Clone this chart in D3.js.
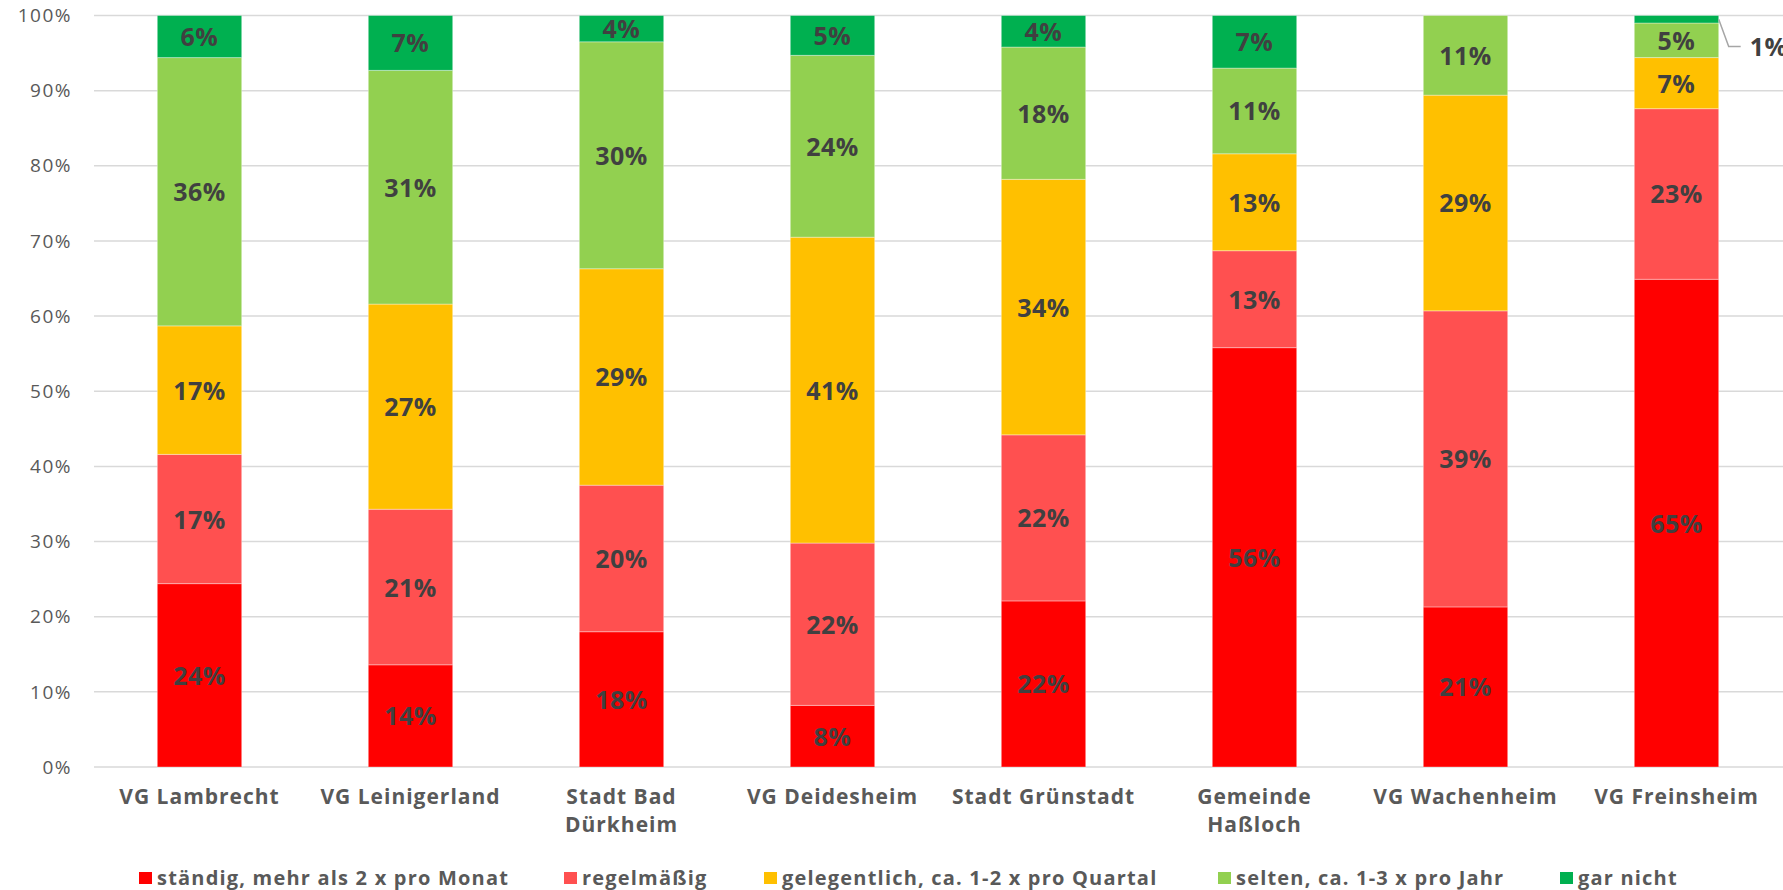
<!DOCTYPE html>
<html>
<head>
<meta charset="utf-8">
<script src="https://cdn.jsdelivr.net/npm/d3@7.9.0/dist/d3.min.js"></script>
<style>
  html, body { margin: 0; padding: 0; background: #fff; }
  svg { display: block; font-family: "Open Sans", sans-serif; }
</style>
</head>
<body>
<svg id="chart" width="1783" height="890"></svg>
<script>
const categories = ['VG Lambrecht', 'VG Leinigerland', 'Stadt Bad Dürkheim', 'VG Deidesheim',
  'Stadt Grünstadt', 'Gemeinde Haßloch', 'VG Wachenheim', 'VG Freinsheim'];

const seriesNames = ['ständig, mehr als 2 x pro Monat', 'regelmäßig',
  'gelegentlich, ca. 1-2 x pro Quartal', 'selten, ca. 1-3 x pro Jahr', 'gar nicht'];

const seriesColors = ['#ff0000', '#ff5050', '#ffc000', '#92d050', '#00b050'];

// percent per category, one array per series
const staendig    = [24.4, 13.6, 18.0,  8.2, 22.1, 55.8, 21.3, 64.9];
const regelmaessig = [17.2, 20.7, 19.5, 21.6, 22.1, 12.9, 39.4, 22.7];
const gelegentlich = [17.1, 27.3, 28.8, 40.7, 34.0, 12.9, 28.7,  6.8];
const selten      = [35.7, 31.1, 30.2, 24.2, 17.6, 11.4, 10.6,  4.6];
const garNicht    = [ 5.6,  7.3,  3.5,  5.3,  4.2,  7.0,  0.0,  1.0];

const yTicks = [0, 10, 20, 30, 40, 50, 60, 70, 80, 90, 100];

const seriesValues = [staendig, regelmaessig, gelegentlich, selten, garNicht];
const rows = categories.map((c, i) => {
  const r = { category: c };
  seriesNames.forEach((s, k) => { r[s] = seriesValues[k][i]; });
  return r;
});

const svg = d3.select('#chart');
const margin = { left: 94, right: 1, top: 15.5, bottom: 123 };
const width = 1783, height = 890;

const x = d3.scaleBand()
  .domain(categories)
  .range([margin.left, width - margin.right])
  .paddingInner(0.6)
  .paddingOuter(0.3);

const y = d3.scaleLinear()
  .domain([0, 100])
  .range([height - margin.bottom, margin.top]);

// gridlines
svg.append('g')
  .selectAll('line')
  .data(yTicks)
  .join('line')
  .attr('x1', margin.left)
  .attr('x2', width)
  .attr('y1', d => y(d))
  .attr('y2', d => y(d))
  .attr('stroke', '#d9d9d9')
  .attr('stroke-width', 1.5);

// y axis labels
svg.append('g')
  .selectAll('text')
  .data(yTicks)
  .join('text')
  .attr('x', 72)
  .attr('y', d => y(d))
  .attr('dy', '0.35em')
  .attr('text-anchor', 'end')
  .attr('font-size', 19)
  .attr('letter-spacing', 1.5)
  .attr('fill', '#595959')
  .text(d => d + '%');

const stacked = d3.stack().keys(seriesNames)(rows);

const layers = svg.append('g')
  .selectAll('g')
  .data(stacked)
  .join('g')
  .attr('fill', (d, i) => seriesColors[i]);

layers.selectAll('rect')
  .data(d => d)
  .join('rect')
  .attr('x', d => x(d.data.category))
  .attr('width', x.bandwidth())
  .attr('y', d => y(d[1]))
  .attr('height', d => y(d[0]) - y(d[1]))
  .attr('stroke', 'rgba(255,255,255,0.35)')
  .attr('stroke-width', 1);

// data labels
const labelG = svg.append('g')
  .attr('font-size', 25)
  .attr('font-weight', 'bold')
  .attr('letter-spacing', 0.5)
  .attr('fill', '#404040');

stacked.forEach(layer => {
  layer.forEach(d => {
    const v = d[1] - d[0];
    if (v <= 0) return;
    const cx = x(d.data.category) + x.bandwidth() / 2;
    if (v < 2) {
      // small slice: label outside with leader line
      const x0 = x(d.data.category) + x.bandwidth();
      const yTop = y((d[0] + d[1]) / 2);
      const ly = y(d[1]) + 31;
      labelG.append('path')
        .attr('d', `M${x0},${yTop}L${x0 + 10},${ly}L${x0 + 22},${ly}`)
        .attr('fill', 'none')
        .attr('stroke', '#a6a6a6')
        .attr('stroke-width', 1.5);
      labelG.append('text')
        .attr('x', x0 + 31)
        .attr('y', ly)
        .attr('dy', '0.38em')
        .text(Math.round(v) + '%');
      return;
    }
    labelG.append('text')
      .attr('x', cx)
      .attr('y', y((d[0] + d[1]) / 2))
      .attr('dy', '0.38em')
      .attr('text-anchor', 'middle')
      .text(Math.round(v) + '%');
  });
});

// category labels
const catG = svg.append('g')
  .attr('font-size', 21)
  .attr('font-weight', 'bold')
  .attr('letter-spacing', 1)
  .attr('fill', '#595959');

categories.forEach(c => {
  let lines = [c];
  if (c.length > 15) {
    const k = c.lastIndexOf(' ');
    lines = [c.slice(0, k), c.slice(k + 1)];
  }
  const t = catG.append('text')
    .attr('x', x(c) + x.bandwidth() / 2)
    .attr('y', 804)
    .attr('text-anchor', 'middle');
  lines.forEach((l, i) => {
    t.append('tspan')
      .attr('x', x(c) + x.bandwidth() / 2)
      .attr('dy', i === 0 ? 0 : 28)
      .text(l);
  });
});

// legend
const legendX = [139, 564, 764, 1218, 1560];
const legend = svg.append('g')
  .attr('font-size', 20)
  .attr('font-weight', 'bold')
  .attr('letter-spacing', 1.2)
  .attr('fill', '#595959');

seriesNames.forEach((s, i) => {
  legend.append('rect')
    .attr('x', legendX[i])
    .attr('y', 872)
    .attr('width', 13)
    .attr('height', 12)
    .attr('fill', seriesColors[i]);
  legend.append('text')
    .attr('x', legendX[i] + 18)
    .attr('y', 878)
    .attr('dy', '0.35em')
    .text(s);
});
</script>
</body>
</html>
